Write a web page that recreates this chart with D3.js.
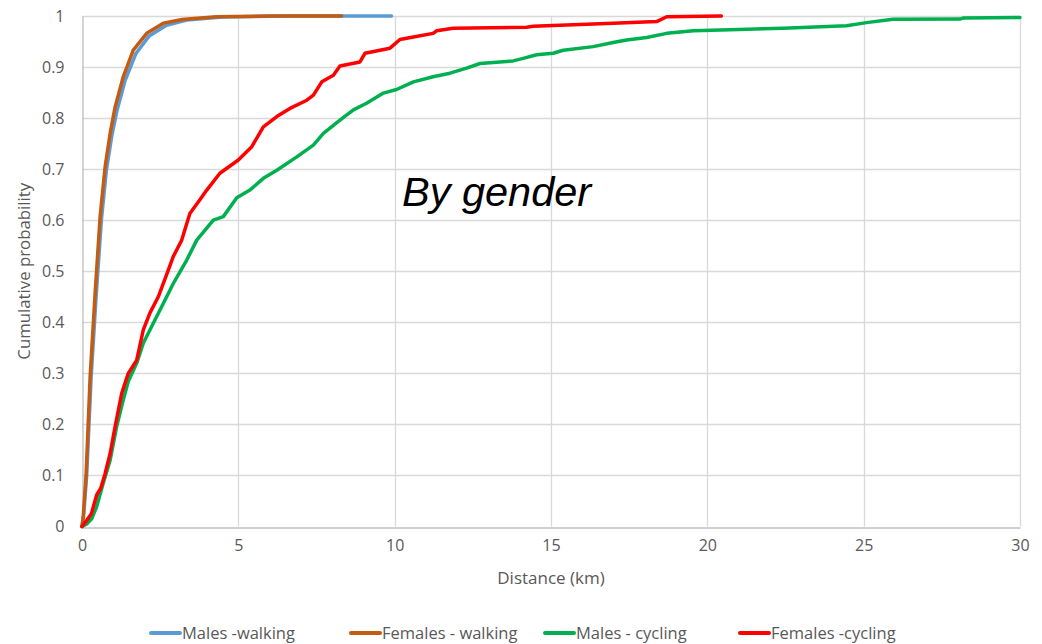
<!DOCTYPE html>
<html>
<head>
<meta charset="utf-8">
<script src="https://cdn.jsdelivr.net/npm/d3@7"></script>
<style>
  html, body { margin: 0; padding: 0; background: #fff; }
  svg { display: block; }
</style>
</head>
<body>
<svg id="chart" width="1042" height="644"></svg>
<script>
// ---- data (distance km, cumulative probability) ----
const seriesNames = ["Males -walking", "Females - walking", "Males - cycling", "Females -cycling"];
const seriesColors = ["#5B9BD5", "#C55A11", "#00B050", "#FF0000"];

const malesWalking = [
  [0,0],[0.05,0.02],[0.15,0.1],[0.29,0.29],[0.45,0.45],[0.62,0.6],[0.78,0.698],[0.95,0.764],
  [1.12,0.815],[1.38,0.874],[1.72,0.926],[2.15,0.961],[2.7,0.982],[3.35,0.992],[4.5,0.998],[6.5,1],[9.9,1]
];
const femalesWalking = [
  [0,0],[0.04,0.02],[0.13,0.1],[0.26,0.293],[0.42,0.457],[0.58,0.607],[0.74,0.705],[0.9,0.77],
  [1.06,0.822],[1.32,0.881],[1.64,0.933],[2.07,0.966],[2.6,0.986],[3.2,0.993],[4.3,0.9985],[6,1],[8.3,1]
];
const malesCycling = [
  [0,0],[0.15,0.005],[0.31,0.015],[0.47,0.039],[0.68,0.085],[0.9,0.13],[1.11,0.196],[1.32,0.248],
  [1.48,0.284],[1.75,0.32],[1.96,0.359],[2.28,0.398],[2.6,0.437],[2.92,0.476],[3.35,0.522],[3.67,0.561],
  [4.2,0.6],[4.52,0.607],[4.95,0.644],[5.37,0.659],[5.8,0.682],[6.23,0.698],[6.87,0.724],[7.4,0.747],
  [7.72,0.77],[8.25,0.796],[8.68,0.816],[9.1,0.829],[9.64,0.849],[10.06,0.856],[10.6,0.871],[11.23,0.881],
  [11.77,0.888],[12.3,0.898],[12.73,0.907],[13.79,0.912],[14.11,0.917],[14.54,0.924],[15.07,0.927],
  [15.39,0.933],[16.35,0.94],[16.99,0.948],[17.42,0.953],[18.06,0.958],[18.7,0.966],[19.55,0.971],
  [20.72,0.973],[22.43,0.976],[24.45,0.981],[25.09,0.987],[25.94,0.9935],[28.08,0.994],[28.18,0.996],[30,0.997]
];
const femalesCycling = [
  [0,0],[0.15,0.012],[0.3,0.025],[0.47,0.062],[0.6,0.075],[0.74,0.104],[0.9,0.143],[1.06,0.196],
  [1.27,0.261],[1.48,0.3],[1.75,0.326],[1.96,0.385],[2.17,0.418],[2.44,0.45],[2.76,0.502],[2.92,0.529],
  [3.19,0.561],[3.45,0.613],[3.77,0.64],[3.99,0.659],[4.41,0.692],[5.0,0.718],[5.43,0.744],[5.8,0.783],
  [6.23,0.803],[6.65,0.819],[7.19,0.835],[7.4,0.845],[7.67,0.871],[8.04,0.884],[8.25,0.902],[8.89,0.91],
  [9.05,0.927],[9.85,0.937],[10.17,0.954],[10.6,0.959],[11.23,0.966],[11.34,0.971],[11.87,0.976],
  [14.22,0.978],[14.43,0.98],[16.99,0.986],[18.38,0.989],[18.7,0.9985],[20.45,1]
];
const seriesData = [malesWalking, femalesWalking, malesCycling, femalesCycling];

const xTicks = [0, 5, 10, 15, 20, 25, 30];
const yTicks = [0, 0.1, 0.2, 0.3, 0.4, 0.5, 0.6, 0.7, 0.8, 0.9, 1];
const xTitle = "Distance (km)";
const yTitle = "Cumulative probability";
const annotation = "By gender";

// ---- layout ----
const W = 1042, H = 644;
const m = { left: 82, right: 22, top: 16, bottom: 117.5 };
const svg = d3.select("#chart");
const x = d3.scaleLinear().domain([0, 30]).range([m.left, W - m.right]);
const y = d3.scaleLinear().domain([0, 1]).range([H - m.bottom, m.top]);
const font = "'Open Sans', Lato, sans-serif";

// gridlines
const g = svg.append("g");
g.selectAll("line.hg").data(yTicks.slice(1)).join("line")
  .attr("x1", x(0)).attr("x2", x(30))
  .attr("y1", d => Math.round(y(d)) + 0.5).attr("y2", d => Math.round(y(d)) + 0.5)
  .attr("stroke", "#d9d9d9").attr("stroke-width", 1.3);
g.selectAll("line.vg").data(xTicks.slice(1)).join("line")
  .attr("y1", y(0)).attr("y2", y(1))
  .attr("x1", d => Math.round(x(d)) + 0.5).attr("x2", d => Math.round(x(d)) + 0.5)
  .attr("stroke", "#d9d9d9").attr("stroke-width", 1.3);

// axes
const xAxis = d3.axisBottom(x).tickValues(xTicks).tickSize(0).tickPadding(12).tickFormat(d3.format("d"));
const yAxis = d3.axisLeft(y).tickValues(yTicks).tickSize(0).tickPadding(18).tickFormat(d => d === 0 ? "0" : d === 1 ? "1" : d3.format(".1f")(d));
const gx = svg.append("g").attr("transform", `translate(0,${Math.round(y(0)) + 0.5})`).call(xAxis);
const gy = svg.append("g").attr("transform", `translate(${Math.round(x(0)) + 0.5},0)`).call(yAxis);
[gx, gy].forEach(a => {
  a.select(".domain").attr("stroke", "#bfbfbf").attr("stroke-width", 1.3);
  a.selectAll("text").attr("fill", "#595959").style("font-family", font).style("font-size", "16px");
});

// axis titles
svg.append("text").attr("x", x(15)).attr("y", 584).attr("text-anchor", "middle")
  .attr("fill", "#595959").style("font-family", font).style("font-size", "17px").text(xTitle);
svg.append("text").attr("transform", `translate(30,${y(0.5)}) rotate(-90)`).attr("text-anchor", "middle")
  .attr("fill", "#595959").style("font-family", font).style("font-size", "16.8px").text(yTitle);

// lines
const line = d3.line().x(d => x(d[0])).y(d => y(d[1])).curve(d3.curveLinear);
const widths = [3.5, 3.5, 3.5, 3.5];
seriesData.forEach((s, i) => {
  svg.append("path").datum(s).attr("d", line).attr("fill", "none")
    .attr("stroke", seriesColors[i]).attr("stroke-width", widths[i])
    .attr("stroke-linejoin", "round").attr("stroke-linecap", "round");
});

// annotation
svg.append("text").attr("x", 402).attr("y", 206)
  .style("font-family", "'Liberation Sans', Arial, sans-serif").style("font-style", "italic")
  .style("font-size", "41.5px").attr("fill", "#000").text(annotation);

// legend
const legendX = [151, 351, 545, 740];
const lg = svg.append("g");
seriesNames.forEach((n, i) => {
  lg.append("line").attr("x1", legendX[i]).attr("x2", legendX[i] + 29)
    .attr("y1", 633).attr("y2", 633).attr("stroke", seriesColors[i]).attr("stroke-width", 4)
    .attr("stroke-linecap", "round");
  lg.append("text").attr("x", legendX[i] + 31).attr("y", 633).attr("dy", "0.35em")
    .attr("fill", "#595959").style("font-family", font).style("font-size", "16.5px").text(n);
});
</script>
</body>
</html>
